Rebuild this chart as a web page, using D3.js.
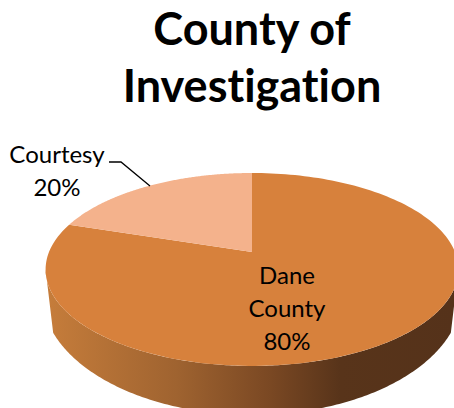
<!DOCTYPE html>
<html><head><meta charset="utf-8">
<script src="https://cdn.jsdelivr.net/npm/d3@7"></script>
<style>html,body{margin:0;padding:0;background:#fff}svg{display:block}text{font-family:Lato,"Open Sans",sans-serif;fill:#000;font-variant-ligatures:none}</style>
</head><body><svg id="c" width="454" height="408"></svg>
<script>
const categories = ["Dane County", "Courtesy"];
const values = [80, 20];
const colors = ["#d7813c", "#f4b28c"];
const titleLines = ["County of", "Investigation"];

const W = 454, H = 408;
const svg = d3.select("#c").attr("viewBox", [0, 0, W, H]);
const defs = svg.append("defs");
const grad = defs.append("linearGradient").attr("id", "wall")
  .attr("gradientUnits", "userSpaceOnUse").attr("x1", 46).attr("x2", 454).attr("y1", 0).attr("y2", 0);
[[0, "#c67d3b"], [0.32, "#9f6330"], [0.55, "#7a4823"], [0.72, "#58341a"], [1, "#55321a"]]
  .forEach(([o, c]) => grad.append("stop").attr("offset", o).attr("stop-color", c));

// perspective disc: apex at (cx, cy), angle measured clockwise from the top
const cx = 252, cy = 252, p = 0.181;
function proj(a, A = 93.3, B = 203, dy = 0) {
  const u = Math.sin(a), v = Math.cos(a), w = 1 + p * v;
  return [cx + B * u / w, cy + dy - A * v / w];
}
const line = d3.line();
const arcs = d3.pie().sort(null).value(d => d)(values);
const steps = d => d3.range(0, 181).map(i => d.startAngle + (d.endAngle - d.startAngle) * i / 180);

// side wall: front of the rim, and a deeper lower rim trimmed at the silhouette
const v0 = Math.acos(-p);
const front = d3.range(0, 241).map(i => v0 + (2 * Math.PI - 2 * v0) * i / 240);
const lower = front.map(a => proj(a, 117, 206.5, 20)).filter(q => q[0] > 53 && q[0] < 451 && q[1] > 300);
const wall = front.map(a => proj(a)).concat(lower.reverse());
svg.append("path").attr("d", line(wall) + "Z").attr("fill", "url(#wall)");

svg.selectAll("path.slice").data(arcs).join("path").attr("class", "slice")
  .attr("d", d => line([[cx, cy], ...steps(d).map(a => proj(a))]) + "Z")
  .attr("fill", (d, i) => colors[i]);

// leader line
svg.append("path").attr("d", line([[109, 162], [121, 162], [150, 186]]))
  .attr("fill", "none").attr("stroke", "#000").attr("stroke-width", 1.3);

const title = svg.append("text").attr("text-anchor", "middle")
  .attr("font-weight", 700).attr("font-size", 45);
title.append("tspan").attr("x", 252).attr("y", 45).text(titleLines[0]);
title.append("tspan").attr("x", 252).attr("y", 102).text(titleLines[1]);

function label(lines, x, y0, lh) {
  const t = svg.append("text").attr("text-anchor", "middle").attr("font-size", 24);
  lines.forEach((s, i) => t.append("tspan").attr("x", x).attr("y", y0 + i * lh).text(s));
}
label(["Courtesy", values[1] + "%"], 57, 163, 33);
label(["Dane", "County", values[0] + "%"], 287, 284, 33);
</script></body></html>
